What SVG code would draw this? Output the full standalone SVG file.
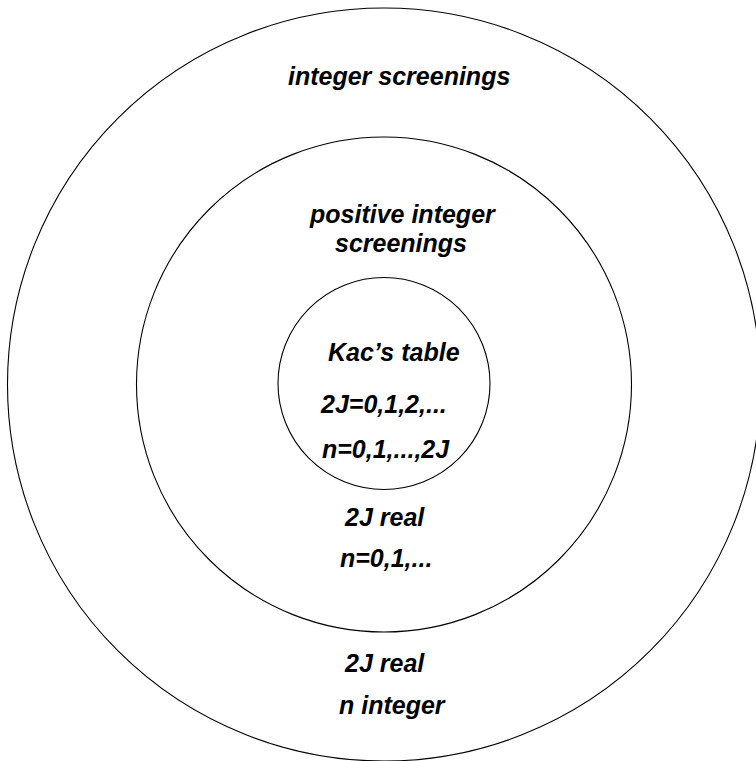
<svg xmlns="http://www.w3.org/2000/svg" width="756" height="761" viewBox="0 0 756 761">
<style>
.ring{fill:none;stroke:#000;stroke-width:1.1}
.lbl{font-family:"Liberation Sans",Arial,sans-serif;font-size:25px;font-weight:bold;font-style:italic;fill:#000}
</style>
<rect width="756" height="761" fill="#fff"/>
<g id="outer">
<circle class="ring" cx="384" cy="384.5" r="376.5"/>
<text class="lbl" x="288" y="85">integer screenings</text>
<text class="lbl" x="345" y="672">2J real</text>
<text class="lbl" x="339" y="714">n integer</text>
</g>
<g id="middle">
<circle class="ring" cx="384" cy="384.5" r="247.5"/>
<text class="lbl" x="310" y="223">positive integer</text>
<text class="lbl" x="335" y="252">screenings</text>
<text class="lbl" x="345" y="526">2J real</text>
<text class="lbl" x="340" y="567">n=0,1,...</text>
</g>
<g id="inner">
<circle class="ring" cx="384" cy="383.5" r="106"/>
<text class="lbl" x="328" y="361">Kac’s table</text>
<text class="lbl" x="321" y="413">2J=0,1,2,...</text>
<text class="lbl" x="322" y="458">n=0,1,...,2J</text>
</g>
<g id="connectors"/>
</svg>
